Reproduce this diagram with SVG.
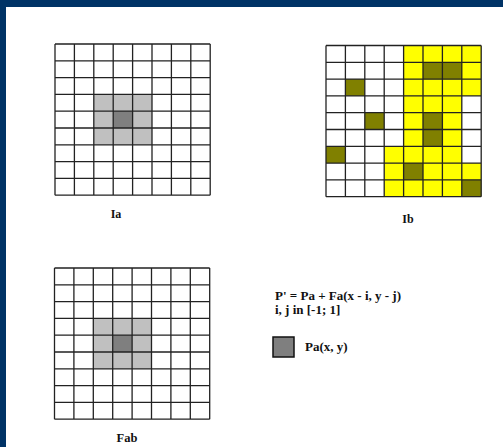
<svg xmlns="http://www.w3.org/2000/svg" xmlns:xlink="http://www.w3.org/1999/xlink" width="503" height="447" viewBox="0 0 503 447">
<style>
.lbl{font-family:"Liberation Serif","Times New Roman",serif;font-weight:bold;fill:#111}
.lg{fill:#c0c0c0}
.dk{fill:#7f7f7f}
.ye{fill:#ffff00}
.ol{fill:#808000}
.gl{fill:none;stroke:#222;stroke-width:1.3}
</style>
<defs>
<path id="grid" class="gl" d="M0,0V151.2M19.4,0V151.2M38.8,0V151.2M58.2,0V151.2M77.6,0V151.2M97,0V151.2M116.4,0V151.2M135.8,0V151.2M155.2,0V151.2M0,0H155.2M0,16.8H155.2M0,33.6H155.2M0,50.4H155.2M0,67.2H155.2M0,84H155.2M0,100.8H155.2M0,117.6H155.2M0,134.4H155.2M0,151.2H155.2"/>
</defs>
<rect width="503" height="447" fill="#ffffff"/>
<rect x="0" y="0" width="503" height="7" fill="#003366"/>
<rect x="0" y="0" width="6" height="447" fill="#003366"/>
<g id="Ia" transform="translate(55,44)">
<rect class="lg" x="38.8" y="50.4" width="58.2" height="50.4"/>
<rect class="dk" x="58.2" y="67.2" width="19.4" height="16.8"/>
<use xlink:href="#grid"/>
</g>
<g id="Ib" transform="translate(326,45.5)">
<rect class="ye" x="77.6" y="0" width="77.6" height="50.4"/>
<rect class="ye" x="77.6" y="50.4" width="58.2" height="50.4"/>
<rect class="ye" x="58.2" y="100.8" width="77.6" height="16.8"/>
<rect class="ye" x="58.2" y="117.6" width="97" height="33.6"/>
<rect class="ol" x="97" y="16.8" width="19.4" height="16.8"/>
<rect class="ol" x="116.4" y="16.8" width="19.4" height="16.8"/>
<rect class="ol" x="19.4" y="33.6" width="19.4" height="16.8"/>
<rect class="ol" x="38.8" y="67.2" width="19.4" height="16.8"/>
<rect class="ol" x="97" y="67.2" width="19.4" height="16.8"/>
<rect class="ol" x="97" y="84" width="19.4" height="16.8"/>
<rect class="ol" x="0" y="100.8" width="19.4" height="16.8"/>
<rect class="ol" x="77.6" y="117.6" width="19.4" height="16.8"/>
<rect class="ol" x="135.8" y="134.4" width="19.4" height="16.8"/>
<use xlink:href="#grid"/>
</g>
<g id="Fab" transform="translate(54.5,268)">
<rect class="lg" x="38.8" y="50.4" width="58.2" height="50.4"/>
<rect class="dk" x="58.2" y="67.2" width="19.4" height="16.8"/>
<use xlink:href="#grid"/>
</g>
<g id="labels">
<text class="lbl" x="116" y="218" font-size="12" text-anchor="middle">Ia</text>
<text class="lbl" x="408" y="223" font-size="12" text-anchor="middle">Ib</text>
<text class="lbl" x="127" y="442" font-size="12.5" text-anchor="middle">Fab</text>
</g>
<g id="formula">
<text class="lbl" x="275" y="300" font-size="13">P' = Pa + Fa(x - i, y - j)</text>
<text class="lbl" x="275" y="314" font-size="13">i, j in [-1; 1]</text>
</g>
<g id="legend">
<rect x="273" y="337" width="21" height="20" fill="#7f7f7f" stroke="#111" stroke-width="1.5"/>
<text class="lbl" x="305" y="351" font-size="13">Pa(x, y)</text>
</g>
</svg>
